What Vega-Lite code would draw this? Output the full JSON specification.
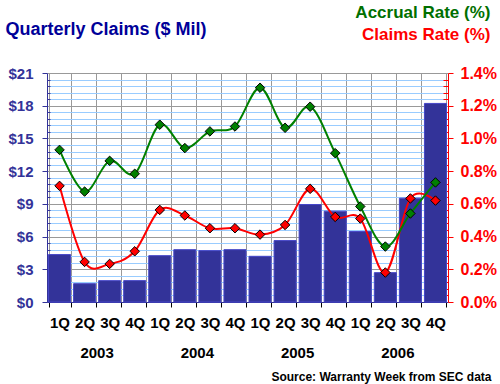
{
  "$schema": "https://vega.github.io/schema/vega-lite/v6.json",
  "width": 401,
  "height": 229,
  "autosize": "none",
  "padding": {"left": 47, "top": 73, "right": 52, "bottom": 82},
  "background": "white",
  "config": {"font": "Liberation Sans", "view": {"stroke": null}},
  "title": {
    "text": "Accrual Rate (%)",
    "subtitle": "Claims Rate (%)",
    "anchor": "end",
    "color": "#007000",
    "subtitleColor": "#ff0000",
    "fontSize": 17,
    "subtitleFontSize": 17,
    "fontWeight": "bold",
    "subtitleFontWeight": "bold",
    "subtitlePadding": 5,
    "dx": -6,
    "offset": -24
  },
  "data": {
    "values": [
      {"period": "1Q 2003", "claims": 4.35, "accrual": 0.93, "claimsRate": 0.71},
      {"period": "2Q 2003", "claims": 1.68, "accrual": 0.675, "claimsRate": 0.245},
      {"period": "3Q 2003", "claims": 1.96, "accrual": 0.863, "claimsRate": 0.233},
      {"period": "4Q 2003", "claims": 1.96, "accrual": 0.784, "claimsRate": 0.31},
      {"period": "1Q 2004", "claims": 4.25, "accrual": 1.084, "claimsRate": 0.563},
      {"period": "2Q 2004", "claims": 4.8, "accrual": 0.941, "claimsRate": 0.529},
      {"period": "3Q 2004", "claims": 4.71, "accrual": 1.043, "claimsRate": 0.451},
      {"period": "4Q 2004", "claims": 4.8, "accrual": 1.073, "claimsRate": 0.451},
      {"period": "1Q 2005", "claims": 4.19, "accrual": 1.31, "claimsRate": 0.412},
      {"period": "2Q 2005", "claims": 5.63, "accrual": 1.065, "claimsRate": 0.471},
      {"period": "3Q 2005", "claims": 8.94, "accrual": 1.194, "claimsRate": 0.692},
      {"period": "4Q 2005", "claims": 8.33, "accrual": 0.91, "claimsRate": 0.52},
      {"period": "1Q 2006", "claims": 6.46, "accrual": 0.584, "claimsRate": 0.51},
      {"period": "2Q 2006", "claims": 2.69, "accrual": 0.339, "claimsRate": 0.18},
      {"period": "3Q 2006", "claims": 9.52, "accrual": 0.541, "claimsRate": 0.633},
      {"period": "4Q 2006", "claims": 18.21, "accrual": 0.731, "claimsRate": 0.62}
    ]
  },
  "layer": [
    {
      "mark": {"type": "bar", "color": "#333399", "stroke": "#4646c8", "strokeWidth": 1},
      "encoding": {
        "x": {
          "field": "period", "type": "ordinal", "sort": null,
          "scale": {"paddingInner": 0.12, "paddingOuter": 0.06},
          "axis": {
            "orient": "bottom",
            "title": "Source: Warranty Week from SEC data",
            "titleFontSize": 12, "titleFontWeight": "bold", "titleColor": "black",
            "titleAlign": "right", "titleBaseline": "middle", "titleX": 444, "titleY": 74,
            "labelExpr": "datum.value ? split(datum.value, ' ')[0] : ''",
            "labelAngle": 0, "labelFontSize": 15, "labelFontWeight": "bold", "labelColor": "black",
            "labelPadding": 8, "labelOverlap": false,
            "tickBand": "extent", "tickSize": 5, "tickColor": "black",
            "domainColor": "#333399",
            "grid": true, "gridColor": "#999999"
          }
        },
        "y": {
          "field": "claims", "type": "quantitative",
          "scale": {"domain": [0, 21], "nice": false},
          "axis": {
            "orient": "left",
            "values": [0,0.6,1.2,1.8,2.4,3,3.6,4.2,4.8,5.4,6,6.6,7.2,7.8,8.4,9,9.6,10.2,10.8,11.4,12,12.6,13.2,13.8,14.4,15,15.6,16.2,16.8,17.4,18,18.6,19.2,19.8,20.4,21],
            "labelExpr": "abs(datum.value/3 - round(datum.value/3)) < 0.01 ? '$' + format(datum.value, 'd') : ''",
            "labelFontSize": 15, "labelFontWeight": "bold", "labelColor": "#333399", "labelPadding": 9,
            "labelOverlap": false,
            "tickColor": "#333399",
            "tickSize": {"condition": {"test": "abs(datum.value/3 - round(datum.value/3)) < 0.01", "value": 5}, "value": -3},
            "domainColor": "#333399",
            "grid": true,
            "gridColor": {"condition": {"test": "abs(datum.value/3 - round(datum.value/3)) < 0.01", "value": "#999999"}, "value": "#99ccff"},
            "title": "Quarterly Claims ($ Mil)",
            "titleAngle": 0, "titleAlign": "left", "titleBaseline": "middle",
            "titleX": -42, "titleY": -44,
            "titleFontSize": 18, "titleFontWeight": "bold", "titleColor": "#000099"
          }
        }
      }
    },
    {
      "transform": [{"fold": ["claimsRate", "accrual"], "as": ["series", "rate"]}],
      "encoding": {
        "x": {
          "field": "period", "type": "ordinal", "sort": null,
          "axis": {
            "orient": "bottom", "title": null,
            "labelExpr": "datum.value && indexof(datum.value, '2Q') == 0 ? split(datum.value, ' ')[1] : ''",
            "labelOffset": 12.5, "labelPadding": 43, "labelAngle": 0, "labelOverlap": false,
            "labelFontSize": 15, "labelFontWeight": "bold", "labelColor": "black",
            "ticks": false, "domain": false, "grid": false
          }
        },
        "y": {
          "field": "rate", "type": "quantitative",
          "scale": {"domain": [0, 1.4], "nice": false},
          "axis": {
            "orient": "right", "title": null,
            "values": [0,0.04,0.08,0.12,0.16,0.2,0.24,0.28,0.32,0.36,0.4,0.44,0.48,0.52,0.56,0.6,0.64,0.68,0.72,0.76,0.8,0.84,0.88,0.92,0.96,1,1.04,1.08,1.12,1.16,1.2,1.24,1.28,1.32,1.36,1.4],
            "labelExpr": "abs(datum.value/0.2 - round(datum.value/0.2)) < 0.01 ? format(datum.value, '.1f') + '%' : ''",
            "labelFontSize": 16, "labelFontWeight": "bold", "labelColor": "#ff0000", "labelPadding": 7,
            "labelOverlap": false,
            "tickColor": "#ff0000",
            "tickSize": {"condition": {"test": "abs(datum.value/0.2 - round(datum.value/0.2)) < 0.01", "value": 5}, "value": -5},
            "domainColor": "#ff0000",
            "grid": false
          }
        },
        "color": {
          "field": "series", "type": "nominal",
          "scale": {"domain": ["claimsRate", "accrual"], "range": ["#ff0000", "#008000"]},
          "legend": null
        }
      },
      "layer": [
        {"mark": {"type": "line", "interpolate": "cardinal", "strokeWidth": 2}},
        {"mark": {"type": "point", "shape": "diamond", "filled": true, "size": 90, "stroke": "black", "strokeWidth": 1, "opacity": 1}}
      ]
    }
  ],
  "resolve": {"scale": {"y": "independent"}, "axis": {"x": "independent"}}
}
